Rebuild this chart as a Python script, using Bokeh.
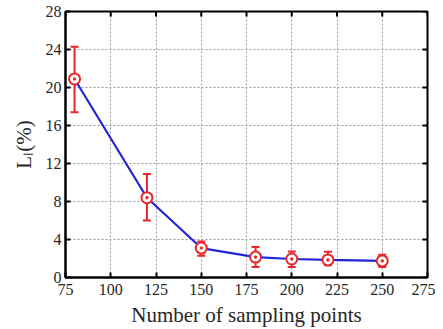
import math
from bokeh.plotting import figure
from bokeh.models import Range1d, FixedTicker, ColumnDataSource, Whisker
from bokeh.embed import file_html
from bokeh.resources import INLINE

# data
n_points = [80, 120, 150, 180, 200, 220, 250]
l1_mean = [20.9, 8.4, 3.1, 2.15, 1.95, 1.85, 1.75]
l1_upper = [24.3, 10.9, 3.8, 3.2, 2.75, 2.7, 2.4]
l1_lower = [17.4, 6.0, 2.3, 1.1, 1.1, 1.3, 1.1]
x_ticks = [75, 100, 125, 150, 175, 200, 225, 250, 275]
y_ticks = [0, 4, 8, 12, 16, 20, 24, 28]

FONT = "Liberation Serif"
RED = "#e8262a"
BLUE = "#2424d6"
TXT = "#262626"

p = figure(width=435, height=329, output_backend="svg", toolbar_location=None,
           x_range=Range1d(75, 275), y_range=Range1d(0, 28),
           min_border_left=65, min_border_right=8, min_border_top=11, min_border_bottom=50)
p.background_fill_color = "white"
p.border_fill_color = "white"
p.outline_line_color = "black"
p.outline_line_width = 2

for ax in (p.xaxis[0], p.yaxis[0]):
    ax.major_tick_in = 5
    ax.major_tick_out = 0
    ax.minor_tick_in = 0
    ax.minor_tick_out = 0
    ax.axis_line_width = 2
    ax.major_tick_line_width = 2
    ax.major_label_text_font = FONT
    ax.major_label_text_font_size = "16px"
    ax.major_label_text_color = TXT
    ax.axis_label_text_font = FONT
    ax.axis_label_text_font_size = "21px"
    ax.axis_label_text_font_style = "normal"
    ax.axis_label_text_color = TXT

p.xaxis[0].ticker = FixedTicker(ticks=x_ticks)
p.yaxis[0].ticker = FixedTicker(ticks=y_ticks)
p.xaxis[0].major_label_standoff = 6
p.yaxis[0].major_label_standoff = 4
p.xaxis[0].axis_label = "Number of sampling points"
p.yaxis[0].axis_label = "Lₗ(%)"
p.xaxis[0].axis_label_standoff = 5
p.yaxis[0].axis_label_standoff = 7

p.grid.grid_line_color = "#9a9a9a"
p.grid.grid_line_dash = "2 2"
p.grid.grid_line_width = 1
p.xgrid.ticker = FixedTicker(ticks=x_ticks)
p.ygrid.ticker = FixedTicker(ticks=y_ticks)

# inward ticks on top and right edges (half of each dash is clipped by the frame)
p.scatter(x=x_ticks, y=[28] * len(x_ticks), marker="dash", angle=math.pi / 2,
          size=10, line_color="black", line_width=2)
p.scatter(x=[275] * len(y_ticks), y=y_ticks, marker="dash",
          size=10, line_color="black", line_width=2)

src = ColumnDataSource(dict(x=n_points, y=l1_mean, up=l1_upper, lo=l1_lower))

p.line("x", "y", source=src, line_color=BLUE, line_width=2.2)
w = Whisker(source=src, base="x", upper="up", lower="lo", line_color=RED, line_width=2)
for h in (w.upper_head, w.lower_head):
    h.line_color = RED
    h.line_width = 2
    h.size = 8
p.add_layout(w)
p.scatter("x", "y", source=src, size=11, fill_color="white", line_color=RED, line_width=2)
p.scatter("x", "y", source=src, size=2.5, fill_color=RED, line_color=RED)

open("out.html", "w").write(file_html(p, INLINE))
